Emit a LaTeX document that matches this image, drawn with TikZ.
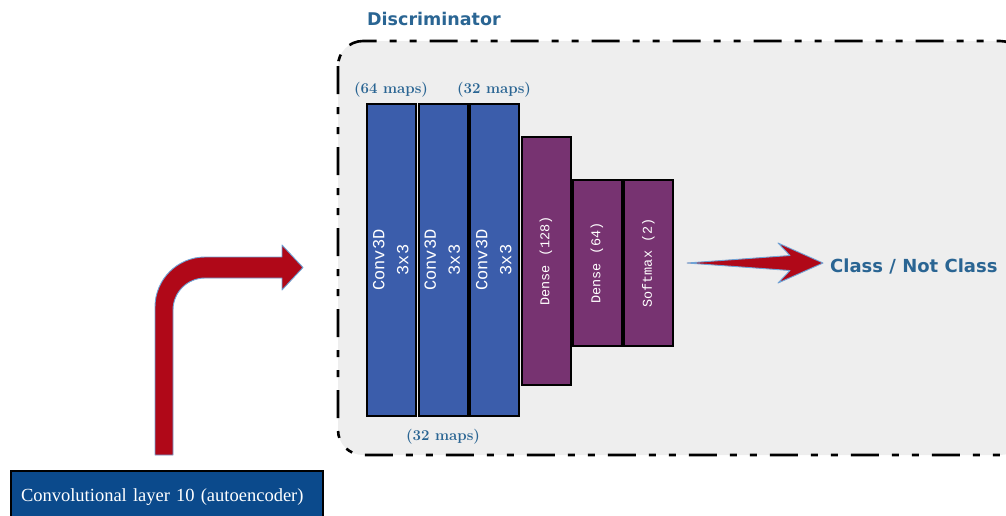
\documentclass[tikz,border=0pt]{standalone}
\usepackage{fontspec}
\newfontfamily\headfont{DejaVu Sans}
\newfontfamily\blockfont{Liberation Mono}
\newfontfamily\boxfont{Liberation Serif}

\definecolor{panelgray}{HTML}{EEEEEE}
\definecolor{convblue}{HTML}{3B5DAB}
\definecolor{densepurple}{HTML}{773371}
\definecolor{labelblue}{HTML}{2A6593}
\definecolor{arrowred}{HTML}{B00818}
\definecolor{glow}{HTML}{6FA3D6}
\definecolor{inputblue}{HTML}{0B4A8C}

\tikzset{
  panel/.style={fill=panelgray, draw=black, line width=2.6pt, rounded corners=25pt,
    dash pattern=on 28pt off 13pt on 7pt off 13pt on 7pt off 13pt},
  layer/.style={draw=black, line width=2pt, inner sep=0pt, anchor=north west,
    minimum width=49pt, text=white},
  convlayer/.style={layer, fill=convblue, minimum height=312pt,
    font=\blockfont\fontsize{17}{24}\selectfont},
  denselayer/.style={layer, fill=densepurple, font=\blockfont\fontsize{13.5}{16}\selectfont},
  mapslabel/.style={text=labelblue, inner sep=0pt,
    font=\fontsize{15}{16}\selectfont\bfseries},
  heading/.style={text=labelblue, inner sep=0pt, font=\headfont\bfseries\fontsize{17.5}{20}\selectfont},
  blockarrow/.style={fill=arrowred, draw=glow, line width=0.9pt, line join=round},
  inputbox/.style={fill=inputblue, draw=black, line width=2pt, anchor=north west,
    text width=292pt, align=left, minimum height=52pt, inner xsep=10pt, inner ysep=0pt,
    text=white, font=\boxfont\fontsize{18.5}{20}\selectfont}
}

\begin{document}
\begin{tikzpicture}[x=1pt, y=-1pt]
  \useasboundingbox (0,0) rectangle (1006,515);
  \clip (0,0) rectangle (1006,515);

  % discriminator panel, running past the right edge
  \draw[panel] (338,41) rectangle (1025,455);
  \node[heading, anchor=west] (title) at (367,19) {Discriminator};

  % convolutional layers
  \node[convlayer] (c1) at (366,103) {\rotatebox{90}{\begin{tabular}{@{}c@{}}Conv3D\\3x3\end{tabular}}};
  \node[convlayer] (c2) at (417.5,103) {\rotatebox{90}{\begin{tabular}{@{}c@{}}Conv3D\\3x3\end{tabular}}};
  \node[convlayer] (c3) at (469,103) {\rotatebox{90}{\begin{tabular}{@{}c@{}}Conv3D\\3x3\end{tabular}}};

  % dense layers
  \node[denselayer, minimum height=248pt] (d1) at (520.5,136) {\rotatebox{90}{Dense (128)}};
  \node[denselayer, minimum height=166pt] (d2) at (571.5,179) {\rotatebox{90}{Dense (64)}};
  \node[denselayer, minimum height=166pt] (d3) at (623,179) {\rotatebox{90}{Softmax (2)}};

  % feature map counts
  \node[mapslabel] (m64) at (391,90) {(64 maps)};
  \node[mapslabel] (m32a) at (494,90) {(32 maps)};
  \node[mapslabel] (m32b) at (443,437) {(32 maps)};

  % output
  \node[heading, font=\headfont\bfseries\fontsize{18}{20}\selectfont, anchor=west] (out) at (830,266) {Class / Not Class};
  \coordinate (otail) at (687,263);
  \coordinate (otip) at (823,263);
  \filldraw[blockarrow] (otail) -- (790,255.5) -- (778,243) -- (otip)
    -- (778,283) -- (790,270.5) -- cycle;

  % input layer
  \node[inputbox] (input) at (10,470) {Convolutional layer 10 (autoencoder)};

  % bent arrow from the input layer into the discriminator
  \coordinate (btail) at (164,455);
  \coordinate (btip) at (303,267.5);
  \filldraw[blockarrow] (155,455) -- (155,307)
    .. controls (155,279.4) and (177.4,257) .. (205,257)
    -- (282,257) -- (282,245) -- (btip) -- (282,290) -- (282,278)
    -- (205,278) .. controls (187.3,278) and (173,292.3) .. (173,310)
    -- (173,455) -- cycle;
\end{tikzpicture}
\end{document}
